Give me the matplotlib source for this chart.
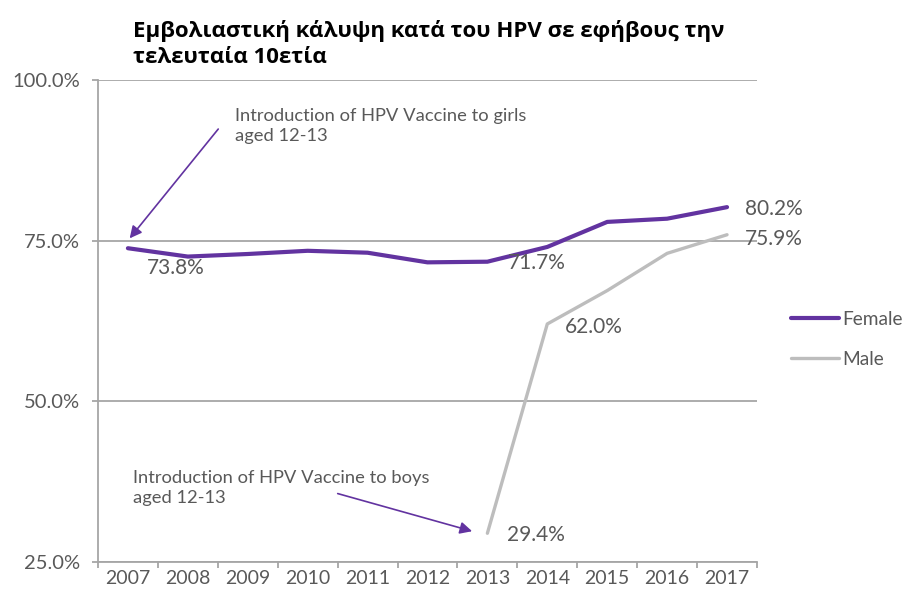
import numpy as np
import matplotlib
matplotlib.use("Agg")
import matplotlib.pyplot as plt

years = ["2007", "2008", "2009", "2010", "2011", "2012", "2013", "2014", "2015", "2016", "2017"]
female = [73.8, 72.5, 72.9, 73.4, 73.1, 71.6, 71.7, 74.0, 77.9, 78.4, 80.2]
male = [np.nan, np.nan, np.nan, np.nan, np.nan, np.nan, 29.4, 62.0, 67.2, 73.0, 75.9]
yticks = [25, 50, 75, 100]
title = "Εμβολιαστική κάλυψη κατά του HPV σε εφήβους την\nτελευταία 10ετία"
note_girls = "Introduction of HPV Vaccine to girls\naged 12-13"
note_boys = "Introduction of HPV Vaccine to boys\naged 12-13"

purple = "#6233a0"
grey_line = "#bdbdbd"
axis_col = "#a6a6a6"
text_col = "#595959"
font = ["Lato", "DejaVu Sans"]

fig = plt.figure(figsize=(9.07, 6.03), dpi=100)
ax = fig.add_axes([0.108, 0.0688, 0.7266, 0.7985])

x = np.arange(len(years))
ax.plot(x, female, color=purple, lw=3.0, solid_capstyle="round", label="Female", zorder=3)
ax.plot(x, male, color=grey_line, lw=2.4, solid_capstyle="round", label="Male", zorder=3)

ax.set_xlim(-0.5, len(years) - 0.5)
ax.set_ylim(25, 100)
ax.set_yticks(yticks)
ax.set_yticklabels([f"{v:.1f}%" for v in yticks], fontsize=14.5, color=text_col, family=font)
ax.yaxis.grid(True, color=axis_col, lw=1.3)
ax.set_axisbelow(True)

# category axis: tick marks between categories, labels centered
ax.set_xticks(np.arange(len(years) + 1) - 0.5)
ax.set_xticklabels([])
ax.set_xticks(x, minor=True)
ax.set_xticklabels(years, minor=True, fontsize=14, color=text_col, family=font)
ax.tick_params(axis="x", which="minor", length=0, pad=6)
ax.tick_params(axis="x", which="major", length=4, color=axis_col, width=1.3)
ax.tick_params(axis="y", length=4, color=axis_col, width=1.3, pad=9)

for s in ["top", "right"]:
    ax.spines[s].set_visible(False)
for s in ["left", "bottom"]:
    ax.spines[s].set_color(axis_col)
    ax.spines[s].set_linewidth(1.3)

# data labels
lab_kw = dict(fontsize=15, color=text_col, family=font, va="center", textcoords="offset points")
ax.annotate(f"{female[0]:.1f}%", (x[0], female[0]), xytext=(13.7, -14), **lab_kw)
ax.annotate(f"{female[6]:.1f}%", (x[6], female[6]), xytext=(14.4, -1), **lab_kw)
ax.annotate(f"{female[10]:.1f}%", (x[10], female[10]), xytext=(13, -1), **lab_kw)
ax.annotate(f"{male[10]:.1f}%", (x[10], male[10]), xytext=(13, -3), **lab_kw)
ax.annotate(f"{male[7]:.1f}%", (x[7], male[7]), xytext=(13, -2), **lab_kw)
ax.annotate(f"{male[6]:.1f}%", (x[6], male[6]), xytext=(14.4, -1.5), **lab_kw)

# notes with arrows
note_kw = dict(fontsize=13.2, color=text_col, family=font, linespacing=1.3)
ax.text(1.787, 92.9, note_girls, ha="left", va="center", **note_kw)
ax.annotate("", xy=(x[0], female[0] + 1.2), xytext=(1.537, 92.7),
            arrowprops=dict(arrowstyle="-|>", color=purple, lw=1.2, mutation_scale=18))
ax.text(0.084, 36.45, note_boys, ha="left", va="center", **note_kw)
ax.annotate("", xy=(5.79, 29.6), xytext=(3.457, 35.7),
            arrowprops=dict(arrowstyle="-|>", color=purple, lw=1.2, mutation_scale=18))

fig.text(0.147, 0.927, title, ha="left", va="center", fontsize=16, fontweight="bold",
         family=["Open Sans", "DejaVu Sans"], color="black", linespacing=1.3)

leg = ax.legend(loc="center left", bbox_to_anchor=(1.034, 0.462), frameon=False,
                handlelength=2.5, handletextpad=0.2, labelspacing=1.2,
                borderpad=0.3, borderaxespad=0.3,
                prop=dict(family=font, size=13.8))
for t in leg.get_texts():
    t.set_color(text_col)

fig.savefig("out.png", dpi=100)
